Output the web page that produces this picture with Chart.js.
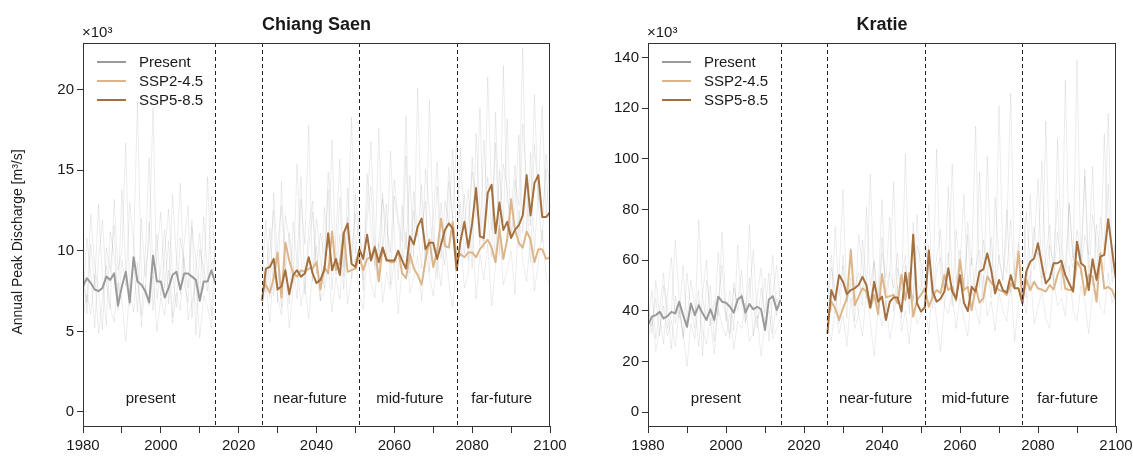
<!DOCTYPE html>
<html>
<head>
<meta charset="utf-8">
<script src="https://cdn.jsdelivr.net/npm/chart.js@4.4.1/dist/chart.umd.min.js"></script>
<style>
  body { margin: 0; background: #fff; width: 1133px; height: 463px; overflow: hidden; position: relative; }
  .panel { position: absolute; top: 0; height: 463px; }
</style>
</head>
<body>
<div class="panel" style="left:0;width:575px"><canvas id="cs"></canvas></div>
<div class="panel" style="left:575px;width:558px"><canvas id="kr"></canvas></div>
<script>
// ---- data (values in 10^3 m3/s) ----
const presentStart = 1980;   // 1980-2014
const futureStart = 2026;    // 2026-2100
const periodBreaks = [2014, 2026, 2051, 2076];
const periodLabels = ['present', 'near-future', 'mid-future', 'far-future'];
const periodCenters = [1997.4, 2038.4, 2064, 2087.6];

// Chiang Saen
const csPresent = [7.8, 8.3, 8.0, 7.6, 7.5, 7.7, 8.4, 8.2, 8.6, 6.6, 7.8, 8.7, 6.8, 9.6, 8.1, 7.9, 7.5, 6.8, 9.7, 8.1,
  8.1, 7.1, 7.7, 8.5, 8.7, 7.6, 8.6, 8.6, 8.4, 8.2, 6.9, 8.1, 8.1, 8.8, 8.0];
const csSsp245 = [7.5, 7.9, 7.4, 8.3, 9.9, 7.1, 10.5, 9.4, 8.6, 8.4, 8.8, 8.7, 8.9, 8.9, 9.3, 7.6, 9.0, 8.6, 11.2, 8.8,
  9.3, 11.1, 8.7, 8.8, 8.9, 9.6, 8.8, 9.5, 9.6, 10.3, 8.1, 10.2, 9.5, 9.3, 9.3, 10.0, 8.6, 8.3, 9.8, 8.9,
  8.5, 7.9, 9.4, 10.7, 9.0, 10.0, 12.0, 10.3, 10.2, 11.8, 9.4, 9.8, 9.6, 9.9, 9.9, 9.6, 10.1, 10.4, 10.7, 10.2,
  9.3, 11.4, 9.5, 10.7, 13.2, 11.3, 10.5, 10.2, 11.2, 10.7, 9.3, 10.1, 10.1, 9.5, 9.6];
const csSsp585 = [6.9, 8.9, 9.0, 9.5, 7.6, 7.8, 8.8, 7.3, 8.5, 8.8, 8.4, 8.6, 9.6, 8.6, 8.0, 8.2, 8.8, 11.1, 8.8, 9.5,
  8.5, 11.1, 11.7, 9.2, 9.0, 10.1, 9.5, 11.0, 9.4, 10.2, 9.3, 10.2, 9.4, 9.4, 9.4, 10.0, 9.4, 8.9, 10.9, 10.4,
  11.5, 12.0, 10.1, 10.5, 10.5, 9.5, 10.4, 11.3, 11.7, 11.4, 8.8, 10.6, 11.8, 10.2, 11.7, 13.9, 10.9, 10.8, 13.6, 14.1,
  11.1, 13.0, 11.3, 11.8, 10.8, 11.3, 11.6, 12.2, 14.7, 12.2, 14.2, 14.7, 12.1, 12.1, 12.4];
// individual ensemble members (faint grey), [present, future]
const csMembers = [
  [[9.2, 6.1, 10.4, 7.8, 12.9, 8.3, 5.4, 11.2, 9.7, 7.0, 13.8, 8.9, 6.6, 10.1, 19.3, 8.2, 7.4, 11.8, 6.3, 9.9, 12.4, 7.7, 10.6, 5.9, 9.1, 14.2, 8.0, 6.8, 11.5, 9.4, 7.2, 12.1, 8.7, 6.0, 10.3],
   [8.4, 11.9, 7.1, 13.6, 9.3, 6.5, 12.2, 10.8, 8.0, 15.4, 9.6, 7.3, 11.4, 13.1, 8.8, 6.9, 12.7, 10.2, 16.9, 8.5, 11.0, 7.6, 13.9, 9.8, 12.3, 10.6, 8.2, 14.8, 11.3, 9.1, 17.6, 10.0, 12.9, 7.9, 13.4, 11.7, 9.4, 15.9, 8.6, 12.5, 10.9, 14.1, 9.0, 19.4, 11.2, 8.3, 13.0, 10.4, 15.2, 12.0, 9.7, 16.4, 11.5, 13.8, 8.9, 17.3, 12.6, 10.1, 20.8, 13.3, 9.5, 15.0, 11.8, 18.2, 10.7, 14.4, 12.8, 22.6, 11.1, 16.1, 9.9, 13.7, 19.0, 12.2, 15.6]],
  [[7.1, 10.8, 8.6, 5.2, 9.5, 11.9, 7.9, 6.4, 13.2, 8.8, 10.0, 16.7, 7.5, 9.3, 6.2, 12.0, 8.4, 10.7, 18.9, 7.0, 8.9, 11.3, 6.7, 13.5, 9.6, 7.3, 10.5, 12.8, 5.8, 9.0, 11.1, 7.6, 14.6, 8.5, 9.8],
   [10.6, 7.4, 9.9, 12.5, 6.8, 14.3, 8.7, 11.1, 9.2, 7.0, 13.2, 10.4, 17.8, 8.1, 12.0, 9.5, 7.7, 14.9, 11.6, 9.0, 13.3, 8.4, 10.9, 18.3, 9.8, 12.4, 7.5, 11.9, 14.0, 8.8, 10.5, 13.6, 9.3, 16.2, 11.0, 8.2, 12.8, 10.1, 14.7, 9.6, 20.1, 11.4, 13.1, 8.7, 12.2, 15.5, 10.3, 9.1, 14.3, 11.9, 17.0, 10.8, 13.5, 9.4, 15.8, 12.1, 18.9, 10.6, 14.6, 11.3, 16.7, 9.7, 21.5, 13.0, 12.3, 15.3, 10.2, 17.9, 14.1, 11.6, 19.7, 12.9, 10.5, 16.0, 13.8]],
  [[8.0, 6.8, 12.3, 9.1, 7.4, 5.1, 10.2, 8.7, 11.6, 6.3, 9.4, 7.8, 13.0, 10.5, 8.1, 6.0, 9.7, 15.8, 8.3, 11.0, 7.2, 9.9, 12.6, 8.6, 6.5, 10.8, 9.2, 7.7, 11.9, 4.8, 10.1, 8.9, 7.5, 13.4, 9.0],
   [9.1, 8.0, 11.4, 7.2, 10.3, 12.8, 8.9, 6.7, 11.8, 9.4, 14.6, 7.9, 10.2, 12.4, 8.6, 11.1, 9.7, 13.8, 7.6, 10.9, 15.7, 9.0, 12.1, 8.3, 13.5, 11.0, 9.6, 12.7, 16.8, 10.4, 8.7, 13.2, 11.5, 9.9, 14.4, 12.0, 10.6, 18.4, 9.2, 13.7, 11.2, 8.9, 15.1, 12.6, 10.0, 14.0, 9.5, 13.1, 11.7, 16.3, 10.7, 12.9, 9.8, 11.9, 14.9, 13.4, 10.3, 16.9, 12.4, 9.6, 18.6, 11.4, 15.4, 13.9, 10.9, 12.7, 17.2, 11.1, 14.5, 9.3, 16.6, 13.3, 12.0, 15.1, 10.8]],
  [[5.9, 7.3, 6.1, 8.5, 4.9, 7.0, 9.1, 6.4, 5.6, 8.0, 6.9, 4.4, 7.6, 6.2, 9.3, 5.3, 7.9, 6.6, 8.4, 5.0, 7.1, 6.0, 8.8, 5.5, 7.4, 6.3, 9.6, 5.7, 6.8, 8.1, 4.6, 7.2, 6.5, 5.2, 8.3],
   [6.3, 8.1, 5.6, 9.0, 7.2, 6.0, 8.6, 5.2, 7.7, 9.4, 6.6, 7.9, 5.8, 8.8, 10.3, 6.9, 7.5, 9.1, 6.2, 8.4, 7.0, 10.8, 6.7, 8.2, 9.6, 7.3, 6.4, 9.9, 8.0, 7.1, 10.5, 6.8, 8.7, 7.6, 9.3, 6.1, 8.9, 11.2, 7.4, 8.3, 9.7, 6.9, 10.1, 8.5, 7.2, 9.5, 7.8, 11.0, 8.0, 6.5, 9.2, 10.7, 7.7, 8.6, 12.1, 7.0, 9.8, 8.2, 10.4, 6.6, 9.0, 11.6, 7.9, 8.8, 10.0, 7.3, 12.5, 9.4, 8.1, 10.9, 7.5, 9.3, 11.3, 8.4, 7.8]]
];

// Kratie
const krPresent = [34.4, 37.7, 38.3, 39.6, 37.0, 37.9, 39.6, 39.0, 43.6, 38.3, 33.7, 42.9, 38.3, 42.2, 39.0, 36.4, 40.6, 36.4, 45.6, 43.6,
  43.2, 41.6, 39.3, 44.5, 45.8, 39.3, 42.7, 40.6, 41.6, 40.6, 32.4, 44.5, 45.8, 40.3, 44.3];
const krSsp245 = [36, 43.6, 41.0, 36.4, 41.0, 45.0, 64.0, 42.2, 45.6, 48.9, 47.6, 41.0, 46.3, 38.8, 54.5, 45.3, 45.8, 46.3, 43.0, 54.2,
  44.3, 54.9, 37.7, 44.3, 46.3, 48.9, 41.6, 45.6, 48.2, 47.0, 54.1, 48.2, 49.5, 44.0, 60.1, 48.2, 49.5, 40.3, 49.5, 43.2,
  45.0, 53.5, 51.2, 49.5, 48.2, 47.6, 46.3, 50.8, 48.9, 63.4, 44.3, 52.2, 48.2, 51.5, 48.8, 48.4, 47.6, 50.2, 48.4, 54.1,
  58.1, 48.8, 48.2, 48.2, 59.4, 56.8, 46.3, 54.1, 53.5, 43.6, 62.7, 48.8, 49.4, 48.2, 44.3];
const krSsp585 = [31, 48.2, 44.3, 54.1, 51.5, 46.6, 48.2, 48.9, 50.2, 53.4, 50.2, 41.4, 51.5, 43.6, 45.6, 36.4, 43.6, 45.3, 45.3, 39.7,
  55.0, 45.0, 70.1, 42.9, 39.7, 41.4, 63.8, 47.6, 43.6, 44.8, 47.6, 56.8, 47.6, 44.8, 54.1, 43.2, 39.9, 49.5, 47.6, 55.5,
  56.4, 62.7, 56.1, 46.9, 52.2, 48.2, 47.2, 54.1, 48.9, 48.9, 43.0, 55.5, 59.4, 60.7, 66.7, 58.1, 50.8, 52.8, 58.8, 58.8,
  59.8, 54.1, 50.8, 47.6, 67.3, 58.8, 57.5, 48.2, 60.4, 52.2, 61.4, 62.1, 76.2, 64.0, 52.2];
const krMembers = [
  [[44, 31, 52, 38, 27, 47, 61, 35, 42, 29, 55, 40, 33, 76, 45, 37, 50, 28, 43, 58, 36, 48, 32, 66, 41, 39, 53, 30, 46, 57, 34, 44, 62, 38, 49],
   [47, 62, 39, 55, 88, 43, 51, 36, 70, 58, 45, 94, 49, 41, 63, 53, 77, 40, 57, 48, 102, 52, 44, 66, 59, 50, 82, 46, 61, 72, 42, 55, 98, 51, 64, 47, 75, 58, 113, 49, 68, 56, 45, 85, 60, 52, 71, 126, 54, 63, 48, 79, 58, 67, 92, 53, 61, 74, 50, 108, 65, 57, 83, 60, 139, 55, 70, 62, 97, 52, 77, 64, 118, 59, 68]],
  [[36, 48, 29, 41, 55, 33, 39, 68, 45, 30, 37, 52, 42, 26, 47, 60, 34, 44, 38, 71, 40, 31, 49, 43, 56, 35, 46, 64, 37, 41, 53, 28, 47, 58, 43],
   [52, 40, 73, 46, 58, 37, 65, 49, 55, 42, 81, 50, 60, 38, 69, 47, 56, 91, 44, 53, 62, 39, 75, 51, 48, 67, 57, 45, 104, 54, 49, 63, 42, 72, 56, 86, 50, 61, 46, 95, 58, 53, 69, 47, 121, 60, 55, 76, 51, 64, 88, 57, 49, 73, 62, 99, 54, 66, 59, 84, 48, 131, 63, 57, 72, 61, 93, 52, 78, 66, 58, 110, 64, 55, 70]],
  [[40, 34, 45, 30, 50, 42, 25, 46, 37, 58, 33, 43, 39, 48, 22, 52, 41, 35, 63, 44, 38, 29, 51, 40, 47, 36, 74, 42, 33, 49, 39, 55, 31, 45, 40],
   [41, 57, 48, 35, 62, 44, 53, 47, 39, 68, 51, 43, 59, 46, 84, 40, 55, 49, 63, 37, 58, 50, 45, 78, 52, 47, 66, 41, 56, 61, 48, 89, 53, 44, 60, 50, 70, 46, 57, 64, 43, 101, 55, 49, 62, 52, 80, 47, 58, 67, 54, 45, 86, 56, 63, 50, 115, 59, 53, 71, 57, 48, 82, 61, 65, 54, 96, 58, 50, 74, 62, 56, 90, 51, 60]],
  [[28, 38, 24, 33, 42, 30, 36, 26, 40, 31, 18, 35, 29, 44, 32, 27, 37, 23, 41, 34, 30, 39, 25, 36, 33, 43, 28, 31, 38, 22, 35, 40, 29, 33, 37],
   [35, 28, 42, 31, 38, 26, 45, 33, 39, 30, 48, 36, 22, 41, 34, 44, 29, 37, 50, 32, 40, 27, 46, 35, 38, 43, 31, 52, 36, 24, 42, 39, 47, 33, 45, 37, 30, 49, 41, 35, 54, 38, 44, 32, 47, 40, 36, 51, 28, 43, 46, 39, 56, 35, 41, 48, 37, 33, 53, 42, 45, 38, 58, 40, 36, 50, 44, 31, 47, 52, 41, 39, 55, 43, 48]]
];

const colPresent = '#9a9a9a';
const colSsp245 = '#dcb68a';
const colSsp585 = '#a4703f';
const colMember = 'rgba(0,0,0,0.075)';
const fontFam = '"Liberation Sans", Arial, sans-serif';

function series(start, values) {
  return values.map((v, i) => ({ x: start + i, y: v }));
}

// dashed period lines, period names, frame, legend, titles
const decor = {
  id: 'decor',
  afterDatasetsDraw(chart, args, opts) {
    const { ctx, chartArea: a, scales: { x } } = chart;
    ctx.save();
    ctx.strokeStyle = '#222';
    ctx.lineWidth = 1;
    ctx.setLineDash([4, 3]);
    periodBreaks.forEach(yr => {
      const px = Math.round(x.getPixelForValue(yr)) + 0.5;
      ctx.beginPath(); ctx.moveTo(px, a.top); ctx.lineTo(px, a.bottom); ctx.stroke();
    });
    ctx.setLineDash([]);

    ctx.fillStyle = '#1a1a1a';
    ctx.font = '15px ' + fontFam;
    ctx.textAlign = 'center';
    ctx.textBaseline = 'middle';
    periodLabels.forEach((t, i) => ctx.fillText(t, x.getPixelForValue(periodCenters[i]), a.bottom - 27));

    ctx.strokeStyle = '#333';
    ctx.strokeRect(Math.round(a.left) + 0.5, Math.round(a.top) + 0.5, Math.round(a.width) - 1, Math.round(a.height));

    // legend
    ['Present', 'SSP2-4.5', 'SSP5-8.5'].forEach((lab, i) => {
      const ds = chart.data.datasets.find(d => d.label === lab);
      const yy = a.top + 19 + i * 19;
      ctx.strokeStyle = ds.borderColor;
      ctx.lineWidth = 2;
      ctx.beginPath(); ctx.moveTo(a.left + 14, yy); ctx.lineTo(a.left + 43, yy); ctx.stroke();
      ctx.fillStyle = '#1a1a1a';
      ctx.textAlign = 'left';
      ctx.fillText(lab, a.left + 56, yy + 1);
    });

    ctx.font = 'bold 18px ' + fontFam;
    ctx.textAlign = 'center';
    ctx.fillText(opts.title, (a.left + a.right) / 2, 25);
    ctx.font = '15px ' + fontFam;
    ctx.textAlign = 'left';
    ctx.fillText('×10³', a.left - 1, 33);

    if (opts.yTitle) {
      ctx.font = '14px ' + fontFam;
      ctx.textAlign = 'center';
      ctx.translate(18, 242);
      ctx.rotate(-Math.PI / 2);
      ctx.fillText(opts.yTitle, 0, 0);
    }
    ctx.restore();
  }
};

function makeChart(id, cfg) {
  const datasets = [
    { label: 'SSP5-8.5', data: series(futureStart, cfg.ssp585), borderColor: colSsp585, borderWidth: 2 },
    { label: 'SSP2-4.5', data: series(futureStart, cfg.ssp245), borderColor: colSsp245, borderWidth: 2 },
    { label: 'Present', data: series(presentStart, cfg.present), borderColor: colPresent, borderWidth: 2 }
  ];
  cfg.members.forEach(m => {
    datasets.push({
      label: '',
      data: series(presentStart, m[0]).concat([{ x: 2020, y: null }], series(futureStart, m[1])),
      borderColor: colMember,
      borderWidth: 1
    });
  });
  const tickFont = { family: fontFam, size: 15 };
  return new Chart(document.getElementById(id), {
    type: 'line',
    data: { datasets: datasets },
    plugins: [decor],
    options: {
      animation: false,
      responsive: true,
      maintainAspectRatio: false,
      layout: { padding: { top: 43, left: 0, right: cfg.padRight, bottom: 0 } },
      elements: { line: { tension: 0, borderJoinStyle: 'round' }, point: { radius: 0 } },
      plugins: { legend: { display: false }, tooltip: { enabled: false }, decor: { title: cfg.title, yTitle: cfg.yTitle } },
      scales: {
        x: {
          type: 'linear', min: 1980, max: 2100,
          ticks: { stepSize: 10, autoSkip: false, maxRotation: 0, padding: 4, color: '#1a1a1a', font: tickFont,
            callback: v => (v % 20 === 0 ? String(v) : '') },
          grid: { drawOnChartArea: false, tickLength: 7, color: '#333' },
          border: { color: '#333' },
          afterFit: s => { s.height = 37; s.paddingLeft = 0; s.paddingRight = 0; }
        },
        y: {
          min: cfg.yMin, max: cfg.yMax,
          ticks: { stepSize: cfg.yStep, includeBounds: false, padding: 3, color: '#1a1a1a', font: tickFont },
          grid: { drawOnChartArea: false, tickLength: 6, color: '#333' },
          border: { color: '#333' },
          afterFit: s => { s.width = cfg.yWidth; s.paddingTop = 0; s.paddingBottom = 0; }
        }
      }
    }
  });
}

makeChart('cs', {
  title: 'Chiang Saen', present: csPresent, ssp245: csSsp245, ssp585: csSsp585, members: csMembers,
  yMin: -0.87, yMax: 22.9, yStep: 5, yWidth: 83, padRight: 25, yTitle: 'Annual Peak Discharge [m³/s]'
});
makeChart('kr', {
  title: 'Kratie', present: krPresent, ssp245: krSsp245, ssp585: krSsp585, members: krMembers,
  yMin: -5.5, yMax: 145.8, yStep: 20, yWidth: 73, padRight: 17
});
</script>
</body>
</html>
